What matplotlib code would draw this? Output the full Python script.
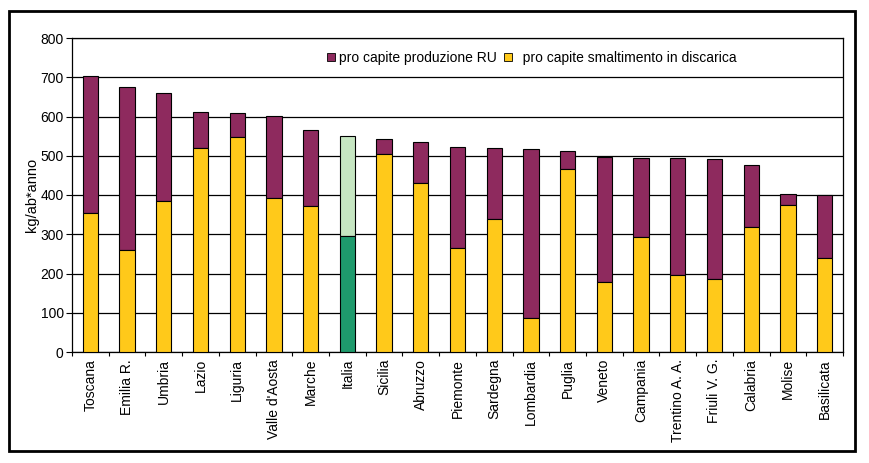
import numpy as np
import matplotlib.pyplot as plt
from matplotlib.patches import Rectangle

plt.rcParams['font.family'] = ['Liberation Sans', 'DejaVu Sans']

regioni = ["Toscana", "Emilia R.", "Umbria", "Lazio", "Liguria", "Valle d'Aosta",
           "Marche", "Italia", "Sicilia", "Abruzzo", "Piemonte", "Sardegna",
           "Lombardia", "Puglia", "Veneto", "Campania", "Trentino A. A.",
           "Friuli V. G.", "Calabria", "Molise", "Basilicata"]
produzione = [703, 674, 659, 611, 608, 600, 565, 550, 542, 535, 522, 519,
              517, 512, 498, 494, 494, 491, 476, 402, 400]
discarica = [353, 259, 384, 519, 547, 392, 372, 295, 505, 431, 265, 338,
             86, 466, 178, 293, 196, 186, 318, 374, 239]

viola = "#8E2A5E"
giallo = "#FFC91A"

def main():
    fig = plt.figure(figsize=(8.69, 4.63), dpi=100)
    ax = fig.add_axes([72 / 869, 1 - 352 / 463, 771 / 869, 314 / 463])

    x = np.arange(len(regioni))
    prod = np.array(produzione)
    disc = np.array(discarica)
    c_top = [viola] * len(x)
    c_bot = [giallo] * len(x)
    i_it = regioni.index("Italia")
    c_top[i_it] = "#C6E6C2"
    c_bot[i_it] = "#1E9A6C"

    w = 0.42
    ax.bar(x, prod - disc, w, bottom=disc, color=c_top, edgecolor="black",
           linewidth=0.8, zorder=3)
    ax.bar(x, disc, w, color=c_bot, edgecolor="black", linewidth=0.8, zorder=3)

    fs = 10
    ax.set_xlim(-0.5, len(x) - 0.5)
    ax.set_ylim(0, 800)
    ax.set_yticks(range(0, 801, 100))
    ax.yaxis.grid(True, color="black", linewidth=0.9, zorder=0)
    ax.set_xticks(x)
    ax.set_xticklabels(regioni, rotation=90, fontsize=fs)
    ax.set_xticks(np.arange(-0.5, len(x), 1), minor=True)
    ax.tick_params(axis="x", which="major", length=0, pad=5)
    ax.tick_params(axis="x", which="minor", length=3, width=0.8, direction="out")
    ax.tick_params(axis="y", length=4, width=0.8, labelsize=fs, pad=2)
    ax.set_ylabel("kg/ab*anno", fontsize=10.5, labelpad=1)
    for s in ax.spines.values():
        s.set_linewidth(0.9)

    handles = [Rectangle((0, 0), 1, 1, facecolor=viola, edgecolor="black", linewidth=0.6),
               Rectangle((0, 0), 1, 1, facecolor=giallo, edgecolor="black", linewidth=0.6)]
    ax.legend(handles, ["pro capite produzione RU", "  pro capite smaltimento in discarica"],
              ncol=2, frameon=False, fontsize=fs, loc="upper left",
              bbox_to_anchor=(0.318, 0.99), handlelength=0.6, handleheight=0.6,
              handletextpad=0.25, columnspacing=0.5, borderaxespad=0.3)

    # cornice esterna
    fig.patches.append(Rectangle((9 / 869, 1 - 451 / 463), 846 / 869, 440 / 463,
                                 transform=fig.transFigure, fill=False,
                                 edgecolor="black", linewidth=2))

    fig.savefig("out.png", dpi=100)


if __name__ == "__main__":
    main()
